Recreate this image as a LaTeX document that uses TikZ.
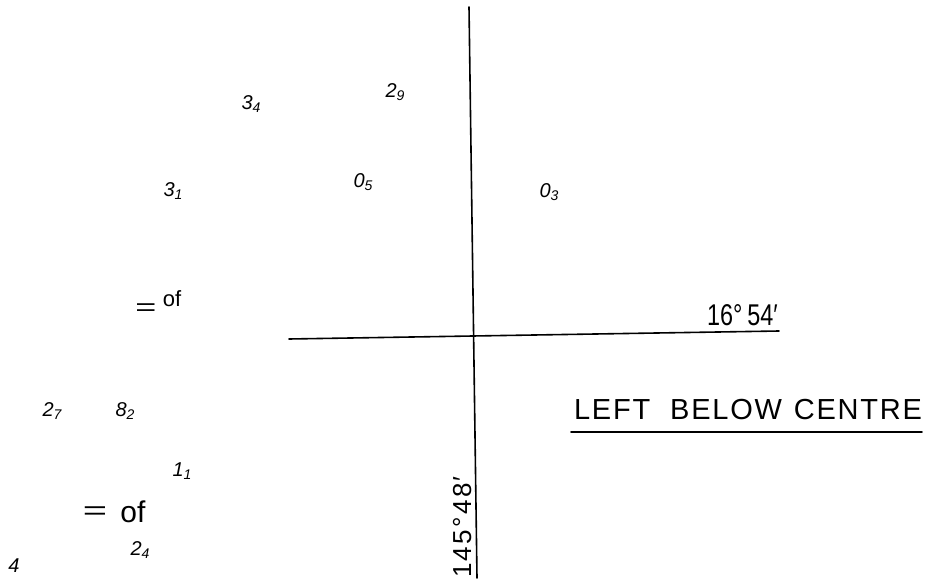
\documentclass[tikz,border=0pt]{standalone}
\usepackage{fontspec}
\setmainfont{Liberation Sans}
\newfontfamily\hand{Liberation Sans}
\newfontfamily\handnarrow[FakeStretch=0.78]{Liberation Sans}
\tikzset{
  lab/.style={inner sep=0pt, font=\hand\itshape\fontsize{20}{20}\selectfont},
  upr/.style={inner sep=0pt, font=\hand\fontsize{24}{24}\selectfont},
  rule/.style={line width=1.6pt, line cap=round}
}
\newcommand{\starlab}[2]{#1\raisebox{-0.35ex}{\fontsize{14}{14}\selectfont #2}}
\begin{document}
\begin{tikzpicture}[x=1pt,y=-1pt]
\useasboundingbox (0,0) rectangle (926,583);
% axes
\coordinate (vt) at (469,7);
\coordinate (vb) at (477,578);
\coordinate (hl) at (289,339);
\coordinate (hr) at (779,331);
\draw[rule] (vt) -- (vb);
\draw[rule] (hl) -- (hr);
% labels
\node[upr, anchor=base east, font=\handnarrow\fontsize{30}{30}\selectfont] (lat) at (778,325) {16°\,54′};
\node[upr, anchor=base, font=\hand\fontsize{29}{29}\selectfont\addfontfeature{LetterSpace=6}] (lbc) at (748,419) {LEFT\hspace{20pt}BELOW\hspace{12pt}CENTRE};
\coordinate (ul1) at (571,432);
\coordinate (ul2) at (922,432);
\draw[rule] (ul1) -- (ul2);
\node[upr, rotate=90, anchor=base west, font=\hand\fontsize{26}{26}\selectfont\addfontfeature{LetterSpace=9}] (lon) at (471,578) {145°48′};
% stars
\node[lab] (s34) at (251,104) {\starlab{3}{4}};
\node[lab] (s29) at (395,92) {\starlab{2}{9}};
\node[lab] (s31) at (173,191) {\starlab{3}{1}};
\node[lab] (s05) at (363,182) {\starlab{0}{5}};
\node[lab] (s03) at (549,192) {\starlab{0}{3}};
\node[lab] (s27) at (52,411) {\starlab{2}{7}};
\node[lab] (s82) at (125,411) {\starlab{8}{2}};
\node[lab] (s11) at (182,471) {\starlab{1}{1}};
\node[lab] (s24) at (140,550) {\starlab{2}{4}};
\node[lab] (s4) at (14,566) {4};
% "of" marks
\node[inner sep=0pt, font=\hand\fontsize{24}{24}\selectfont] (eq1) at (146,310) {\scalebox{1.5}[1]{=}};
\node[inner sep=0pt, font=\hand\fontsize{22}{22}\selectfont] (of1) at (172,299) {of};
\node[inner sep=0pt, font=\hand\fontsize{26}{26}\selectfont] (eq2) at (95,513) {\scalebox{1.6}[1]{=}};
\node[inner sep=0pt, font=\hand\fontsize{30}{30}\selectfont] (of2) at (133,512) {of};
\end{tikzpicture}
\end{document}
